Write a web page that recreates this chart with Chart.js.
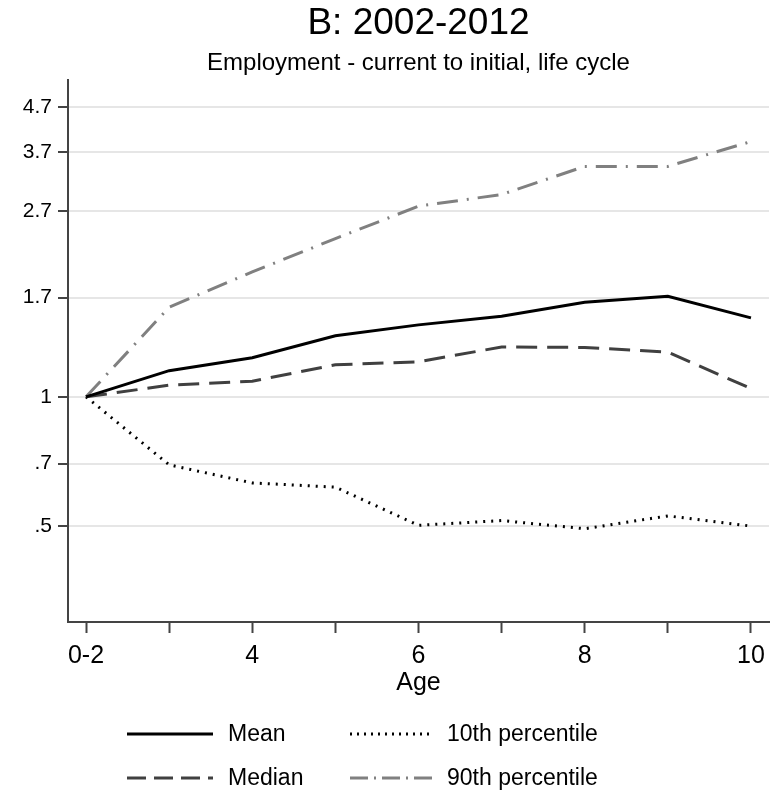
<!DOCTYPE html>
<html>
<head>
<meta charset="utf-8">
<title>B: 2002-2012</title>
<script src="https://cdn.jsdelivr.net/npm/chart.js@4"></script>
<style>
  html, body { margin: 0; padding: 0; background: #fff; }
  #wrap { width: 779px; height: 797px; position: relative; }
</style>
</head>
<body>
<div id="wrap"><canvas id="chart" width="779" height="797"></canvas></div>
<script>
// Age (years since entry); the first point covers ages 0-2
const ages = [2, 3, 4, 5, 6, 7, 8, 9, 10];
const xTickLabels = { 2: '0-2', 4: '4', 6: '6', 8: '8', 10: '10' };
const yTickValues = [0.5, 0.7, 1, 1.7, 2.7, 3.7, 4.7];

// Employment, current relative to initial
const meanValues   = [1.0, 1.150, 1.232, 1.386, 1.469, 1.539, 1.657, 1.711, 1.525];
const medianValues = [1.0, 1.064, 1.087, 1.187, 1.206, 1.305, 1.302, 1.270, 1.045];
const p10Values    = [1.0, 0.695, 0.631, 0.617, 0.503, 0.516, 0.494, 0.529, 0.501];
const p90Values    = [1.0, 1.614, 1.950, 2.330, 2.771, 2.949, 3.428, 3.428, 3.915];

const FONT = '"Liberation Sans", Arial, Helvetica, sans-serif';
const AXIS_COLOR = '#444444';

const toPoints = vals => ages.map((a, i) => ({ x: a, y: vals[i] }));

const datasets = [
  { label: 'Mean', data: toPoints(meanValues), borderColor: '#000000', borderWidth: 3,
    borderDash: [], legendDash: [], legendCol: 0, legendRow: 0 },
  { label: 'Median', data: toPoints(medianValues), borderColor: '#404040', borderWidth: 3,
    borderDash: [21, 10], legendDash: [19, 8], legendCol: 0, legendRow: 1 },
  { label: '10th percentile', data: toPoints(p10Values), borderColor: '#000000', borderWidth: 3,
    borderDash: [2, 6], legendDash: [2, 5], legendCol: 1, legendRow: 0 },
  { label: '90th percentile', data: toPoints(p90Values), borderColor: '#808080', borderWidth: 3,
    borderDash: [21, 9, 2, 9], legendDash: [18, 6, 2, 6], legendCol: 1, legendRow: 1 }
].map(d => Object.assign(d, { pointRadius: 0, pointHoverRadius: 0, tension: 0, fill: false }));

// Titles, x-axis title and the two-column legend
const decorations = {
  id: 'decorations',
  afterDraw(chart) {
    const ctx = chart.ctx;
    const ca = chart.chartArea;
    const cx = (ca.left + ca.right) / 2;
    ctx.save();
    ctx.fillStyle = '#000';
    ctx.textAlign = 'center';
    ctx.textBaseline = 'middle';
    ctx.font = '37px ' + FONT;
    ctx.fillText('B: 2002-2012', cx, 24);
    ctx.font = '24px ' + FONT;
    ctx.fillText('Employment - current to initial, life cycle', cx, 63);
    ctx.font = '25px ' + FONT;
    ctx.fillText('Age', cx, 683);

    const cols = [{ x0: 127, x1: 213, tx: 228 }, { x0: 350, x1: 433, tx: 447 }];
    const rows = [734, 778];
    ctx.font = '23px ' + FONT;
    ctx.textAlign = 'left';
    chart.data.datasets.forEach(ds => {
      const c = cols[ds.legendCol];
      const y = rows[ds.legendRow];
      ctx.beginPath();
      ctx.setLineDash(ds.legendDash);
      ctx.strokeStyle = ds.borderColor;
      ctx.lineWidth = ds.borderWidth;
      ctx.moveTo(c.x0, y);
      ctx.lineTo(c.x1, y);
      ctx.stroke();
      ctx.setLineDash([]);
      ctx.fillStyle = '#000';
      ctx.fillText(ds.label, c.tx, y + 1);
    });
    ctx.restore();
  }
};

new Chart(document.getElementById('chart'), {
  type: 'line',
  data: { datasets },
  options: {
    responsive: false,
    animation: false,
    events: [],
    layout: { padding: { top: 80, left: 0, right: 10, bottom: 0 } },
    plugins: { legend: { display: false }, title: { display: false }, tooltip: { enabled: false } },
    scales: {
      x: {
        type: 'linear',
        min: 1.783,
        max: 10.217,
        afterBuildTicks: s => { s.ticks = ages.map(v => ({ value: v })); },
        afterFit: s => { s.height = 175; },
        ticks: {
          autoSkip: false,
          maxRotation: 0,
          padding: 8,
          color: '#000',
          font: { family: FONT, size: 25 },
          callback: v => xTickLabels[v] || ''
        },
        grid: {
          drawOnChartArea: false,
          drawTicks: true,
          tickLength: 11,
          tickWidth: 2,
          tickColor: AXIS_COLOR
        },
        border: { display: true, color: AXIS_COLOR, width: 2 }
      },
      y: {
        type: 'logarithmic',
        min: 0.304,
        max: 5.44,
        afterBuildTicks: s => { s.ticks = yTickValues.map(v => ({ value: v })); },
        afterFit: s => { s.width = 68; },
        ticks: {
          autoSkip: false,
          padding: 6,
          color: '#000',
          font: { family: FONT, size: 21 },
          callback: v => String(v).replace(/^0\./, '.')
        },
        grid: {
          color: '#e6e6e6',
          lineWidth: 2,
          drawTicks: true,
          tickLength: 10,
          tickWidth: 2,
          tickColor: AXIS_COLOR
        },
        border: { display: true, color: AXIS_COLOR, width: 2 }
      }
    }
  },
  plugins: [decorations]
});
</script>
</body>
</html>
